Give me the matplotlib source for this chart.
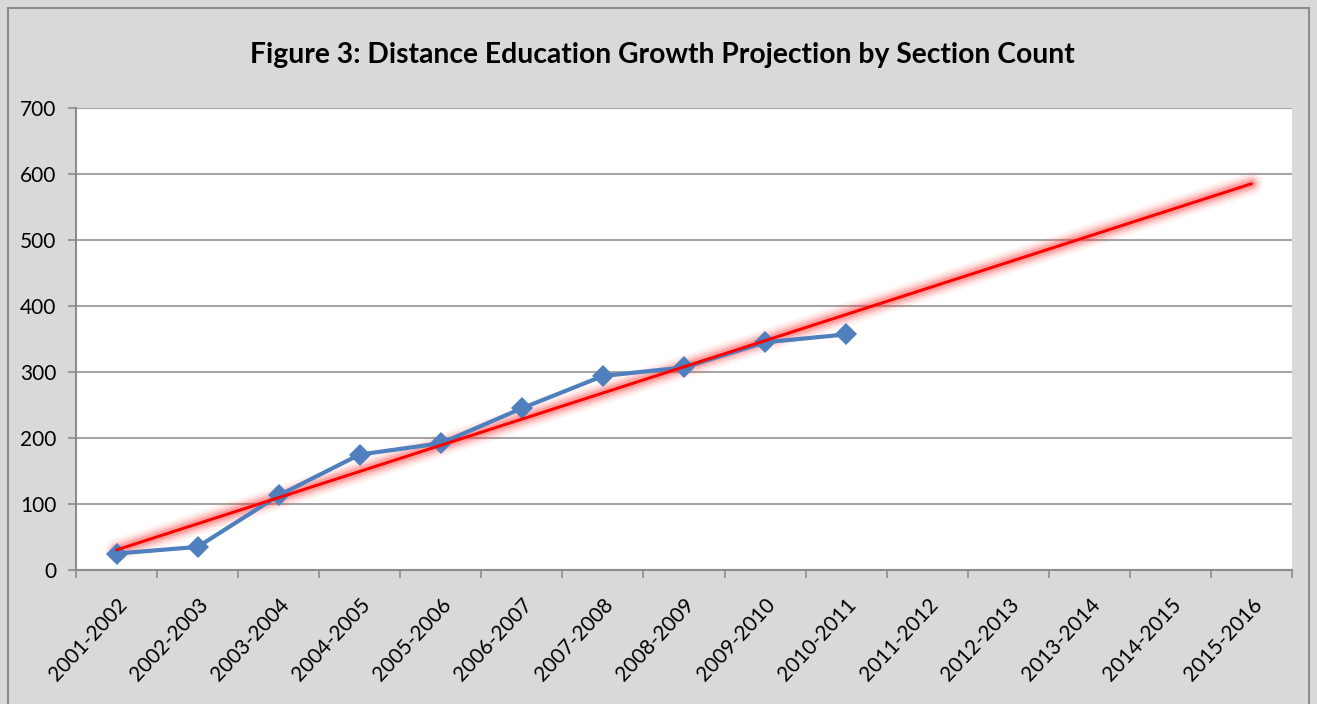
import matplotlib.pyplot as plt
import numpy as np
from matplotlib.patches import Rectangle

years = ["2001-2002", "2002-2003", "2003-2004", "2004-2005", "2005-2006",
         "2006-2007", "2007-2008", "2008-2009", "2009-2010", "2010-2011",
         "2011-2012", "2012-2013", "2013-2014", "2014-2015", "2015-2016"]
sections = [25, 35, 113, 175, 192, 245, 294, 307, 345, 357]

plt.rcParams['font.family'] = ['Lato', 'DejaVu Sans']

fig = plt.figure(figsize=(13.17, 7.04), dpi=100, facecolor='#d9d9d9')
fig.patches.append(Rectangle((0.006, -0.01), 0.988, 0.999, transform=fig.transFigure,
                             fill=False, edgecolor='#8c8c8c', linewidth=1.5))
ax = fig.add_axes([0.0577, 0.1903, 0.9233, 0.6563])
ax.set_facecolor('white')

x_all = np.arange(len(years))
x_obs = np.arange(len(sections))

# linear trend over the observed years, projected to the end
slope, icpt = np.polyfit(x_obs, sections, 1)
trend = slope * x_all + icpt
for lw, a in [(16, 0.07), (12, 0.10), (9, 0.15), (6, 0.22)]:
    ax.plot(x_all, trend, color='#ff3030', linewidth=lw, alpha=a,
            solid_capstyle='round', zorder=2)

ax.plot(x_obs, sections, color='#4f7fbd', linewidth=3, marker='D',
        markersize=11, markeredgewidth=0, zorder=3)
ax.plot(x_all, trend, color='#ff0000', linewidth=2.2, solid_capstyle='round', zorder=4)

ax.set_xlim(-0.5, len(years) - 0.5)
ax.set_ylim(0, 700)
ax.set_yticks(range(0, 701, 100))
ax.set_xticks(x_all)
ax.set_xticklabels(years, rotation=47, ha='right', rotation_mode='anchor')
ax.set_xticks(np.arange(-0.5, len(years)), minor=True)
ax.tick_params(axis='x', which='major', length=0, pad=18, labelsize=15)
ax.tick_params(axis='x', which='minor', length=6, color='#8c8c8c', width=1.2)
ax.tick_params(axis='y', length=6, color='#8c8c8c', width=1.2, labelsize=15, pad=8)

ax.grid(axis='y', color='#a6a6a6', linewidth=1.5)
ax.set_axisbelow(True)
for s in ['top', 'right']:
    ax.spines[s].set_visible(False)
for s in ['left', 'bottom']:
    ax.spines[s].set_color('#8c8c8c')
    ax.spines[s].set_linewidth(1.5)

fig.text(0.503, 0.922, "Figure 3: Distance Education Growth Projection by Section Count",
         ha='center', va='center', fontsize=20.3, fontweight='bold')

fig.savefig('out.png', dpi=100, facecolor=fig.get_facecolor())
